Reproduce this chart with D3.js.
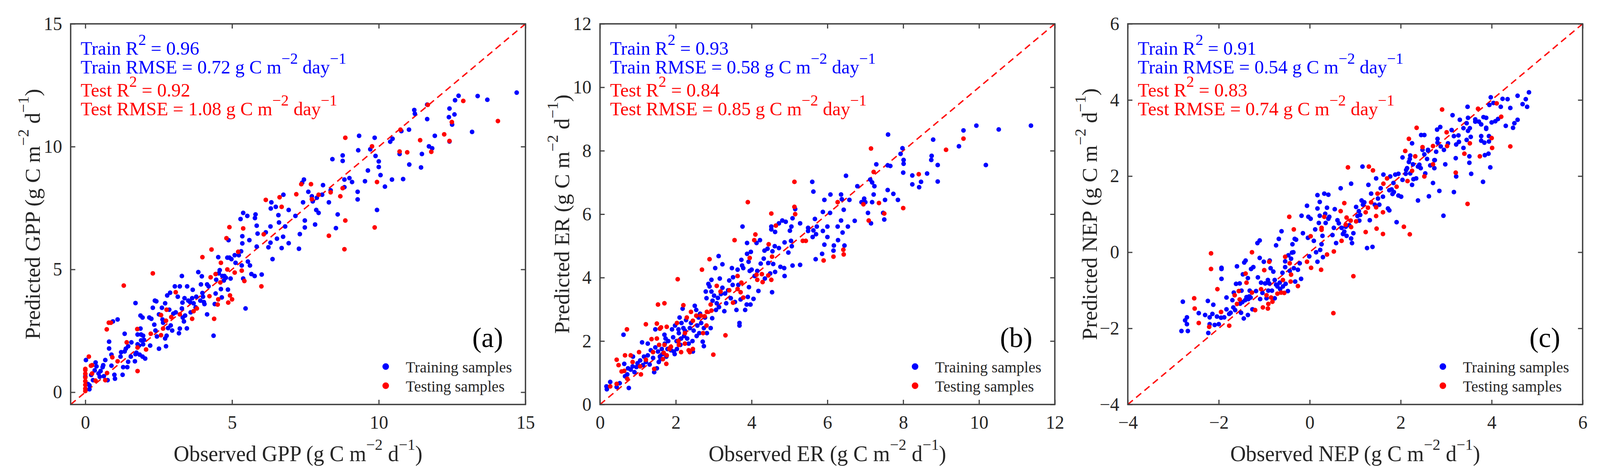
<!DOCTYPE html>
<html>
<head>
<meta charset="utf-8">
<script src="https://cdn.jsdelivr.net/npm/d3@7"></script>
<style>
  html, body { margin: 0; padding: 0; background: #fff; overflow: hidden; }
  #chart { display: block; width: 100vw; height: 100vh; }
</style>
</head>
<body>
<svg id="chart" viewBox="0 0 4144 1218" preserveAspectRatio="none"></svg>
<script>
// ============================================
// Observed vs predicted fluxes (GPP / ER / NEP)
// ============================================

const varNames = ["GPP", "ER", "NEP"];
const panelTags = ["(a)", "(b)", "(c)"];

const trainR2 = [0.96, 0.93, 0.91];
const trainRMSE = [0.72, 0.58, 0.54];
const testR2 = [0.92, 0.84, 0.83];
const testRMSE = [1.08, 0.85, 0.74];

const gppDomain = [-0.5, 15];
const erDomain = [0, 12];
const nepDomain = [-4, 6];

const gppTicks = [0, 5, 10, 15];
const erTicks = [0, 2, 4, 6, 8, 10, 12];
const nepTicks = [-4, -2, 0, 2, 4, 6];

const legendLabels = ["Training samples", "Testing samples"];

// [observed, predicted]
const gppTrain = [
  [14.7,12.2],[13.37,12.06],[13.7,11.91],[12.72,12.07],[12.6,11.89],[13.18,10.6],[12.41,11.55],[12.58,11.31],
  [12.39,11.2],[12.5,10.9],[12.41,10.21],[11.65,11.71],[11.65,11.12],[11.21,11.49],[11.23,11.34],[11.03,10.69],
  [10.77,10.63],[10.71,9.7],[10.83,8.68],[11.04,9.27],[11.44,9.15],[11.47,9.7],[11.71,10.01],[11.82,9.93],
  [11.91,10.44],[10.39,10.2],[10.47,10.32],[10.45,8.66],[10.21,8.37],[10.06,8.84],[10.0,9.17],[10.0,9.4],
  [9.89,9.62],[9.86,10.36],[9.94,7.42],[9.71,9.89],[9.63,9.03],[9.53,8.59],[9.33,10.44],[9.3,9.85],
  [9.28,8.16],[9.28,7.85],[9.09,8.56],[9.0,8.72],[8.83,8.66],[8.83,8.35],[8.77,9.64],[8.77,9.42],
  [8.42,9.49],[8.36,8.22],[8.3,7.73],[8.54,6.68],[8.6,7.24],[8.1,8.43],[8.07,8.04],[7.89,7.92],
  [7.87,7.42],[7.95,7.3],[7.83,6.83],[7.72,7.98],[7.75,7.77],[7.6,8.16],[7.45,8.66],[7.39,8.53],
  [7.42,7.73],[7.48,6.99],[7.48,6.71],[7.31,6.44],[7.28,5.84],[7.16,7.18],[6.93,7.42],[6.93,6.07],
  [6.75,8.04],[6.58,7.21],[6.49,7.55],[6.34,7.73],[6.32,7.48],[5.8,7.24],[5.78,7.09],[5.52,7.18],
  [5.38,7.3],[5.29,7.05],
  [0.02,1.31],[0.14,0.12],[0.14,0.28],[0.26,0.49],[0.35,1.21],[0.38,1.05],[0.45,0.76],[0.49,0.63],
  [0.52,0.86],[0.59,1.02],[0.61,1.1],[0.63,0.65],[0.68,1.31],[0.76,0.49],[0.81,2.06],[0.81,1.78],
  [0.89,1.53],[0.89,1.08],[0.94,2.88],[1.1,2.96],[0.99,0.71],[1.01,0.55],[1.2,1.45],[1.22,1.63],
  [1.27,0.71],[1.29,1.02],[1.34,2.38],[1.34,1.66],[1.38,1.77],[1.43,1.02],[1.46,1.24],[1.46,1.87],
  [1.57,2.03],[1.55,1.45],[1.69,1.26],[1.71,3.63],[1.71,1.55],[1.74,1.61],[1.78,1.95],[1.78,2.35],
  [1.83,1.9],[1.85,1.53],[1.88,2.59],[1.9,2.35],[1.9,2.11],[1.95,1.45],[1.97,2.3],[1.97,1.95],
  [2.0,2.13],[2.04,1.37],[1.88,3.12],[1.95,3.04],[2.18,3.04],[2.21,1.9],[2.25,2.99],[2.3,3.44],
  [2.35,2.75],[2.39,2.51],[2.37,3.73],[2.42,3.7],[2.44,2.27],[2.51,3.17],[2.51,1.77],[2.61,3.44],
  [2.63,2.96],[2.65,2.83],[2.72,3.62],[2.72,2.19],[2.75,1.87],[2.77,2.3],[2.79,3.94],[2.82,2.61],
  [2.86,3.36],[2.89,4.05],[2.91,2.72],[2.96,2.51],[3.0,3.2],[3.05,4.31],[3.08,3.25],[3.15,3.89],
  [3.19,2.4],[3.22,2.59],[3.22,4.31],[3.29,3.41],[3.29,4.73],[3.31,3.65],[3.32,3.04],[3.36,2.88],
  [3.38,3.83],[3.4,3.12],[3.46,2.6],[3.47,4.31],[3.51,3.73],[3.57,3.67],[3.59,3.25],[3.64,3.83],
  [3.66,4.17],[3.69,3.62],[3.76,3.46],[3.78,3.89],[3.85,4.89],[3.92,3.73],[3.94,4.39],[3.97,4.72],
  [3.99,4.04],[4.01,3.89],[4.04,3.67],[4.06,3.59],[4.15,3.17],[4.15,4.39],[4.2,4.31],[4.37,2.3],
  [4.44,4.02],[4.41,3.59],[4.46,4.58],[4.53,5.5],[4.55,4.84],[4.58,4.97],[4.62,4.2],[4.65,3.86],
  [4.67,4.73],[4.72,4.55],[4.74,4.73],[4.79,4.66],[4.84,5.48],[4.86,4.18],[4.88,6.19],[4.91,5.48],
  [4.95,4.63],[4.98,5.42],[5.09,5.58],[5.12,5.27],[5.23,5.58],[5.31,5.74],[5.33,5.16],[5.35,6.35],
  [5.35,6.06],[5.38,4.63],[5.46,3.41],[5.54,5.32],[5.59,6.19],[5.61,5.16],[5.66,4.81],[5.77,4.73],
  [5.84,6.78],[5.87,6.46],[5.84,5.93],[6.01,4.79],[6.15,6.51],[6.24,5.9],[6.31,6.75],[6.31,6.09],
  [6.38,5.42],[6.53,6.25],[6.69,5.87],[6.74,6.33],[6.6,6.91],[6.81,6.75],
  [0.0,0.64],[0.09,0.33],[0.2,0.7],[0.32,0.89]
];

const gppTest = [
  [14.06,11.04],[12.88,11.86],[12.49,11.0],[12.41,10.23],[12.23,10.5],[11.67,11.7],[11.79,9.79],[11.41,10.26],
  [10.97,9.77],[10.71,9.8],[10.74,10.69],[9.94,8.56],[9.86,6.71],[9.77,10.01],[8.86,10.36],[8.86,6.99],
  [8.83,5.82],[8.77,8.31],[8.69,7.98],[8.3,6.37],[8.36,8.14],[7.95,8.04],[7.69,8.47],[7.36,8.47],
  [7.72,7.86],[7.19,8.06],[6.69,7.55],[6.62,7.94],[6.15,7.83],
  [0.12,1.45],[0.19,1.08],[0.23,1.1],[0.23,0.76],[0.35,0.47],[0,0.05],[0,0.15],[0,0.3],
  [0,0.45],[0,0.6],[0,0.75],[0,0.9],[0,0.95],[0.68,0.49],[0.74,0.78],[0.73,2.56],
  [0.8,2.83],[0.87,2.83],[0.92,1.42],[1.1,1.26],[1.31,4.34],[1.41,2.03],[1.78,0.86],[1.77,2.57],
  [1.78,1.82],[2.07,1.74],[2.23,2.38],[2.3,4.84],[2.58,2.32],[2.65,2.59],[2.58,3.14],[2.75,2.91],
  [2.77,3.36],[2.93,3.06],[3.08,4.07],[3.22,3.17],[3.64,2.99],[3.69,3.3],[3.8,3.41],[3.99,5.5],
  [4.23,3.91],[4.27,4.68],[4.3,5.81],[4.39,2.99],[4.44,4.81],[4.51,3.57],[4.53,3.78],[4.62,5.27],
  [4.6,4.47],[4.84,5.0],[4.81,6.27],[4.87,3.65],[4.93,3.94],[5.0,3.78],[5.09,4.87],[5.21,5.72],
  [5.33,4.95],[5.42,4.53],[4.91,6.72],[5.38,6.67],[6.0,4.31],[6.08,6.43]
];

const erTrain = [
  [11.37,8.79],[10.52,8.67],[10.18,7.55],[9.93,8.79],[9.59,8.64],[9.47,8.14],[8.91,7.55],[8.91,7.03],
  [8.79,8.35],[8.75,7.84],[8.74,7.71],[8.63,7.28],[8.47,7.02],[8.42,6.85],[8.24,7.22],[8.24,6.94],
  [8.0,7.31],[8.01,7.59],[8.01,7.71],[7.98,8.08],[7.93,7.9],[7.6,8.51],[7.59,7.54],[7.66,7.52],
  [7.86,6.45],[7.74,6.64],[7.59,6.76],[7.52,6.45],[7.5,5.83],[7.47,6.04],[7.29,7.57],[7.24,6.88],
  [7.18,7.0],[7.15,5.71],[7.22,6.62],[7.18,6.38],[7.13,7.09],[7.07,6.04],[6.97,6.49],[6.9,6.38],
  [7.0,6.38],[6.79,6.88],[6.72,5.79],[6.49,7.21],[6.58,6.45],[6.54,5.61],[6.45,5.01],[6.4,5.42],
  [6.36,5.8],[6.43,6.14],[6.38,6.47],[6.36,6.62],[6.27,5.61],[6.28,5.18],[6.17,5.01],[6.16,4.85],
  [6.08,6.62],[6.07,6.04],[6.0,5.28],[6.0,5.61],[5.92,6.45],[5.88,6.07],[5.88,5.47],[5.92,5.04],
  [5.86,4.75],[5.67,5.85],[5.72,5.61],[5.7,5.37],[5.63,6.71],[5.6,7.02],[5.63,5.49],[5.61,5.28],
  [5.69,4.58],[5.49,5.47],[5.49,5.57],[5.28,4.4],[5.28,5.71],[5.15,6.16],[5.08,5.87],[5.05,5.61],
  [4.9,5.76],[4.81,5.8],[4.72,5.71],[4.52,5.61],[3.76,5.61],
  [0.18,0.48],[0.27,0.71],[0.17,0.57],[0.44,0.55],[0.52,0.67],[0.76,0.52],[0.64,1.28],[0.62,2.2],
  [0.66,0.89],[0.72,0.95],[0.74,1.14],[0.81,1.1],[0.86,1.2],[0.87,1.51],[0.91,1.02],[0.96,1.18],
  [0.99,1.3],[1.06,1.39],[1.11,1.96],[1.13,1.24],[1.16,1.51],[1.21,1.34],[1.26,1.92],[1.26,1.55],
  [1.31,1.26],[1.34,1.71],[1.4,1.47],[1.43,1.02],[1.46,2.37],[1.46,1.8],[1.5,1.14],[1.53,1.67],
  [1.55,1.34],[1.58,1.51],[1.6,1.43],[1.63,1.75],[1.65,1.59],[1.7,2.2],[1.71,1.92],[1.73,2.08],
  [1.75,1.51],[1.78,1.75],[1.8,2.0],[1.87,1.71],[1.9,2.37],[1.93,2.12],[1.95,1.67],[1.97,1.59],
  [1.98,2.49],[2.02,2.0],[2.03,1.75],[2.07,2.37],[2.08,2.25],[2.1,2.74],[2.12,1.88],[2.14,2.08],
  [2.15,2.57],[2.18,3.02],[2.2,2.41],[2.22,2.16],[2.24,2.33],[2.27,2.66],[2.3,2.08],[2.34,1.92],
  [2.37,2.41],[2.4,2.57],[2.44,2.0],[2.45,1.67],[2.47,2.33],[2.5,3.11],[2.54,2.98],[2.55,2.16],
  [2.57,2.49],[2.6,2.74],[2.62,2.25],[2.64,2.86],[2.67,2.57],[2.71,1.98],[2.74,1.84],[2.74,2.41],
  [2.77,2.74],[2.79,3.56],[2.81,3.35],[2.82,2.25],[2.86,3.8],[2.89,3.72],[2.92,2.41],[2.94,3.93],
  [2.94,3.56],[2.96,2.72],[2.97,3.27],[3.01,3.43],[3.04,4.3],[3.06,2.98],[3.08,3.19],[3.11,3.36],
  [3.13,4.68],[3.14,3.07],[3.16,3.97],[3.19,3.48],[3.23,4.42],[3.23,3.68],[3.28,2.94],[3.3,3.5],
  [3.33,3.19],[3.38,3.6],[3.41,3.91],[3.45,3.35],[3.48,4.3],[3.5,3.77],[3.51,4.01],[3.56,3.23],
  [3.6,2.98],[3.63,4.25],[3.65,3.77],[3.68,2.57],[3.68,2.49],[3.71,3.31],[3.73,4.56],[3.75,4.38],
  [3.78,4.3],[3.83,2.98],[3.87,3.15],[3.88,5.09],[3.88,4.75],[3.9,3.39],[3.92,4.5],[3.93,3.7],
  [3.95,4.21],[3.97,3.15],[3.98,4.81],[4.0,4.25],[4.05,3.33],[4.08,4.05],[4.13,5.09],[4.15,4.21],
  [4.18,3.58],[4.22,5.18],[4.24,4.44],[4.32,4.6],[4.34,4.85],[4.35,3.97],[4.42,4.91],[4.44,4.46],
  [4.49,4.13],[4.52,5.52],[4.54,3.54],[4.55,4.83],[4.57,4.43],[4.61,4.99],[4.62,5.44],[4.62,4.18],
  [4.72,4.93],[4.76,4.34],[4.86,4.3],[4.87,5.11],[4.87,4.05],[4.97,4.79],[5.01,5.48],[5.06,4.99],
  [5.08,4.38],[5.04,5.16]
];

const erTest = [
  [9.59,8.38],[9.13,8.03],[8.41,7.26],[8.0,6.19],[7.15,8.07],[7.22,7.33],[7.36,6.35],[7.09,5.8],
  [6.95,6.31],[7.5,6.02],[6.27,6.38],[6.42,4.88],[6.43,4.73],[6.16,4.66],[5.9,4.54],[5.35,5.16],
  [5.43,5.16],[5.13,7.02],[5.13,6.23],[5.15,6.0],[4.52,6.02],[4.64,5.64],[3.9,6.38],
  [0.27,0.57],[0.44,0.65],[0.44,1.41],[0.49,1.24],[0.57,1.04],[0.64,1.06],[0.66,1.55],[0.71,2.37],
  [0.72,0.81],[0.81,1.55],[0.86,1.34],[1.03,1.65],[1.06,1.2],[1.08,0.95],[1.21,2.53],[1.21,1.41],
  [1.36,2.06],[1.4,1.65],[1.43,1.12],[1.5,2.55],[1.5,2.08],[1.53,3.15],[1.56,1.88],[1.58,2.39],
  [1.61,2.43],[1.66,1.43],[1.68,1.63],[1.7,3.19],[1.7,1.88],[1.75,1.28],[1.76,2.45],[1.76,1.55],
  [1.83,1.75],[1.87,1.82],[2.05,3.95],[2.03,2.57],[2.07,2.0],[2.08,1.88],[2.14,1.65],[2.2,3.13],
  [2.24,2.25],[2.24,1.92],[2.29,2.74],[2.34,1.71],[2.37,1.65],[2.4,2.92],[2.45,2.64],[2.45,1.75],
  [2.54,2.8],[2.66,2.8],[2.69,4.25],[2.72,2.25],[2.76,2.78],[2.81,2.49],[2.82,2.92],[2.89,4.58],
  [2.92,3.15],[2.94,2.96],[2.99,1.57],[3.08,3.74],[3.18,3.56],[3.31,2.18],[3.41,3.6],[3.51,3.21],
  [3.55,5.18],[3.63,4.05],[3.63,3.64],[3.71,3.54],[3.73,3.84],[3.78,3.37],[3.95,4.62],[4.07,5.18],
  [4.1,5.36],[4.13,4.09],[4.15,3.93],[4.27,4.11],[4.29,3.86],[4.44,4.07],[4.45,5.05],[4.52,3.93],
  [4.54,4.66]
];

const nepTrain = [
  [-2.79,-1.3],[-2.82,-2.07],[-2.68,-2.07],[-2.74,-1.79],[-2.7,-1.71],[-2.7,-1.89],[-2.44,-1.6],[-2.3,-1.65],
  [-2.24,-1.28],[-2.23,-2.12],[-2.2,-1.71],[-2.2,-1.89],[-2.14,-1.62],[-2.12,-1.38],[-2.09,-1.91],[-2.04,-1.69],
  [-2.0,-1.89],[-1.95,-1.72],[-1.94,-0.7],[-1.94,-0.41],[-1.94,-0.44],[-1.88,-1.71],[-1.83,-1.19],[-1.83,-1.5],
  [-1.77,-1.62],[-1.74,-1.59],[-1.7,-1.26],[-1.68,-1.45],[-1.67,-1.06],[-1.64,-1.52],[-1.62,-0.83],[-1.6,-0.37],
  [-1.54,-0.82],[-1.53,-1.35],[-1.51,-1.59],[-1.5,-1.01],[-1.48,-1.31],[-1.47,-0.58],[-1.45,-1.74],[-1.44,-0.27],
  [-1.42,-1.26],[-1.41,-0.22],[-1.39,-1.18],[-1.36,-0.68],[-1.36,-1.65],[-1.35,-1.23],[-1.33,-1.16],[-1.32,-1.01],
  [-1.3,-1.19],[-1.29,-0.44],[-1.26,-1.5],[-1.24,-0.39],[-1.18,-1.02],[-1.15,0.24],[-1.14,-0.66],[-1.1,0.31],
  [-1.1,-0.15],[-1.09,-1.23],[-1.07,-0.8],[-1.04,-1.07],[-1.01,-0.25],[-0.98,-0.82],[-0.95,-1.21],[-0.92,-0.73],
  [-0.91,-1.01],[-0.89,-0.82],[-0.88,-0.22],[-0.86,-0.42],[-0.83,-1.01],[-0.8,-0.51],[-0.77,-1.21],[-0.77,-0.73],
  [-0.74,0.18],[-0.74,-0.85],[-0.71,-0.9],[-0.68,0.35],[-0.66,-0.8],[-0.65,-0.97],[-0.62,0.55],[-0.6,-0.54],
  [-0.59,-0.9],[-0.54,-0.24],[-0.54,-0.39],[-0.53,-0.83],[-0.48,-1.02],[-0.47,-0.08],[-0.44,-0.49],[-0.41,-0.17],
  [-0.39,-0.01],[-0.38,0.21],[-0.36,0.0],[-0.35,-0.42],[-0.33,0.35],[-0.32,-0.77],[-0.3,0.33],[-0.26,-0.46],
  [-0.22,-0.29],[-0.19,-0.7],[-0.18,0.96],[-0.15,0.5],[-0.06,1.22],[-0.04,0.38],[-0.03,0.93],[-0.01,-0.11],
  [0.02,0.88],[0.09,0.3],[0.12,0.6],[0.14,0.0],[0.17,1.5],[0.17,-0.25],[0.17,1.15],[0.2,0.77],
  [0.22,1.32],[0.22,0.96],[0.23,0.06],[0.26,0.21],[0.28,0.43],[0.29,-0.13],[0.32,1.54],[0.34,1.01],
  [0.35,0.77],[0.38,1.17],[0.41,1.51],[0.41,0.88],[0.43,0.93],[0.5,0.45],[0.53,0.64],[0.55,1.13],
  [0.58,0.24],[0.61,0.84],[0.64,0.76],[0.68,1.68],[0.7,0.64],[0.73,0.48],[0.76,0.54],[0.79,0.67],
  [0.81,0.43],[0.87,0.71],[0.91,1.8],[0.91,0.36],[0.93,0.24],[0.96,0.5],[1.02,1.19],[1.05,0.95],
  [1.08,1.08],[1.09,0.83],[1.11,0.98],[1.14,1.36],[1.17,1.25],[1.2,1.31],[1.26,0.11],[1.29,1.77],
  [1.32,0.84],[1.35,1.54],[1.38,0.14],[1.43,1.25],[1.46,1.94],[1.5,1.41],[1.53,1.25],[1.56,1.68],
  [1.61,1.46],[1.62,2.04],[1.16,2.25],
  [4.82,4.2],[4.57,4.11],[4.75,4.02],[4.78,3.82],[4.68,3.89],[4.57,3.48],[4.5,3.39],[4.47,3.27],
  [4.41,3.79],[4.35,4.02],[4.24,4.03],[4.2,3.82],[4.31,3.32],[3.98,4.07],[3.95,3.87],[4.04,3.92],
  [4.14,3.5],[4.08,3.44],[4.0,3.41],[3.88,3.53],[3.82,3.55],[3.88,3.27],[3.88,3.24],[3.77,3.36],
  [3.72,3.43],[3.64,3.49],[3.64,3.43],[3.77,3.05],[3.77,2.93],[3.84,2.88],[3.94,3.05],[3.94,2.91],
  [3.85,2.55],[3.93,2.59],[3.97,2.23],[3.81,1.85],[3.47,3.82],[3.48,3.53],[3.45,3.39],[3.3,3.48],
  [3.14,3.6],[3.38,3.26],[3.52,3.26],[3.48,3.19],[3.54,3.03],[3.45,2.95],[3.27,3.07],[3.17,3.05],
  [3.12,3.21],[3.22,2.83],[3.28,2.9],[3.38,2.74],[3.51,2.52],[3.51,2.35],[3.55,2.06],[3.21,2.47],
  [3.22,1.99],[3.17,1.58],[2.98,2.31],[3.04,2.86],[2.95,2.69],[2.88,2.78],[2.87,3.29],[2.8,3.22],
  [2.81,2.98],[2.81,2.88],[2.78,2.64],[2.74,2.42],[2.74,2.21],[2.75,2.42],[2.65,2.28],[2.58,2.45],
  [2.6,2.67],[2.52,2.57],[2.54,2.07],[2.6,2.69],[2.52,3.08],[2.45,3.08],[2.48,2.69],[2.41,2.3],
  [2.44,2.21],[2.38,2.25],[2.34,1.94],[2.28,1.92],[2.25,1.77],[2.21,2.07],[2.27,2.31],[2.25,2.86],
  [2.21,2.54],[2.2,2.45],[2.18,2.37],[2.14,2.21],[2.12,2.16],[2.11,2.06],[2.04,2.49],[2.04,1.9],
  [1.95,2.06],[1.88,2.04],[1.84,1.82],[1.8,1.65],[1.85,1.58],[1.82,1.53],[1.95,1.49],[2.01,1.46],
  [1.75,1.63],[1.77,1.99],[1.72,1.15],[1.75,1.1],[1.91,0.79],[2.38,1.36],[2.62,1.47],[2.85,1.61],
  [2.71,1.82],[2.94,0.96]
];

const nepTest = [
  [-2.17,-0.03],[-2.17,-0.44],[-2.54,-1.21],[-2.53,-1.48],[-2.44,-1.86],[-2.21,-1.96],[-2.03,-0.97],[-1.95,-1.57],
  [-1.77,-1.93],[-1.65,-1.13],[-1.6,-1.36],[-1.56,-1.02],[-1.54,-1.24],[-1.41,-0.56],[-1.39,-0.8],[-1.27,0.0],
  [-1.27,-1.06],[-1.2,-1.52],[-1.07,-0.97],[-1.03,-1.45],[-1.0,-0.47],[-0.95,-1.13],[-0.92,-1.48],[-0.91,-1.36],
  [-0.89,-0.25],[-0.85,-1.19],[-0.82,-1.3],[-0.71,-1.09],[-0.63,-1.06],[-0.59,-0.73],[-0.56,-1.07],[-0.54,-0.12],
  [-0.44,-0.29],[-0.41,-0.59],[-0.42,-0.77],[-0.35,0.6],[-0.26,-0.89],[-0.45,0.93],[-0.06,-0.25],[0.02,0.42],
  [0.03,-0.41],[0.25,-0.46],[0.26,0.64],[0.26,0.59],[0.32,0.93],[0.38,-0.06],[0.52,-1.6],[0.53,0.02],
  [0.7,0.3],[0.68,1.08],[0.76,1.29],[0.79,0.72],[0.81,0.91],[0.9,0.83],[0.91,0.66],[0.96,-0.63],
  [1.02,0.81],[1.23,1.05],[1.23,0.53],[1.28,1.17],[1.35,1.31],[1.46,1.18],[1.46,0.95],[1.47,0.62],
  [1.49,1.54],[1.61,1.05],[1.61,0.48],[1.62,1.8],[0.84,2.23],[1.3,2.25],[1.39,2.15],
  [2.91,3.75],[2.35,3.27],[2.18,2.98],[2.1,2.66],[2.32,2.52],[2.48,2.76],[2.71,2.79],[3.01,3.15],
  [3.02,2.79],[2.71,2.31],[2.25,2.14],[2.52,1.99],[2.15,1.87],[1.91,1.72],[1.7,1.94],[2.07,0.67],
  [2.2,0.47],[3.21,2.09],[3.4,2.59],[3.52,2.86],[3.47,1.27],[3.7,3.77],[3.74,2.52],[4.0,3.0],
  [4.01,2.74],[4.11,3.91],[4.21,3.56],[4.41,2.78]
];

// ========== layout ==========

const serif = "'Liberation Serif', 'Times New Roman', Times, serif";
const panelLeft = [183, 1554, 2921];
const plotTop = 61;
const plotW = 1178;
const plotH = 974;
const blue = "#0000ff";
const red = "#ff0000";
const ink = "#262626";

const panels = varNames.map((name, i) => ({
  name,
  tag: panelTags[i],
  train: [gppTrain, erTrain, nepTrain][i],
  test: [gppTest, erTest, nepTest][i],
  domain: [gppDomain, erDomain, nepDomain][i],
  ticks: [gppTicks, erTicks, nepTicks][i],
}));

const svg = d3.select("#chart").attr("font-family", serif);

// MATLAB-ish tex: "m^{−2}" -> raised tspans
function texText(sel, str, size, supSize) {
  const bits = str.split(/\^\{([^}]*)\}/);
  const rise = size * 0.52;
  let cur = 0;
  bits.forEach((b, i) => {
    if (!b) return;
    const sup = i % 2 === 1;
    const target = sup ? -rise : 0;
    sel.append("tspan")
      .attr("dy", target - cur)
      .attr("font-size", sup ? supSize : size)
      .text(b);
    cur = target;
  });
  return sel;
}

function styleAxis(g, showText) {
  g.select(".domain").remove();
  g.attr("font-family", null).attr("font-size", null);
  g.selectAll(".tick line").attr("stroke", "#404040").attr("stroke-width", 3);
  if (!showText) g.selectAll(".tick text").remove();
  g.selectAll(".tick text").attr("font-size", 48).attr("fill", ink);
}

panels.forEach((p, i) => {
  const g = svg.append("g").attr("transform", `translate(${panelLeft[i]},${plotTop})`);

  const x = d3.scaleLinear().domain(p.domain).range([0, plotW]);
  const y = d3.scaleLinear().domain(p.domain).range([plotH, 0]);
  const fmt = d3.format("d");

  g.append("clipPath").attr("id", `clip${i}`)
    .append("rect").attr("width", plotW).attr("height", plotH);

  // ========== axes (ticks inside, mirrored) ==========

  g.append("g").attr("transform", `translate(0,${plotH})`)
    .call(d3.axisBottom(x).tickValues(p.ticks).tickFormat(fmt).tickSize(-12).tickSizeOuter(0).tickPadding(28))
    .call((s) => styleAxis(s, true));

  g.append("g")
    .call(d3.axisTop(x).tickValues(p.ticks).tickSize(-12).tickSizeOuter(0))
    .call((s) => styleAxis(s, false));

  g.append("g")
    .call(d3.axisLeft(y).tickValues(p.ticks).tickFormat(fmt).tickSize(-12).tickSizeOuter(0).tickPadding(22))
    .call((s) => styleAxis(s, true));

  g.append("g").attr("transform", `translate(${plotW},0)`)
    .call(d3.axisRight(y).tickValues(p.ticks).tickSize(-12).tickSizeOuter(0))
    .call((s) => styleAxis(s, false));

  // ========== 1:1 line + points ==========

  const plot = g.append("g").attr("clip-path", `url(#clip${i})`);

  plot.append("line")
    .attr("x1", x(p.domain[0])).attr("y1", y(p.domain[0]))
    .attr("x2", x(p.domain[1])).attr("y2", y(p.domain[1]))
    .attr("stroke", red)
    .attr("stroke-width", 3.5)
    .attr("stroke-dasharray", "17,11");

  plot.append("g").selectAll("circle")
    .data(p.train)
    .join("circle")
    .attr("cx", (d) => x(d[0]))
    .attr("cy", (d) => y(d[1]))
    .attr("r", 6)
    .attr("fill", blue);

  plot.append("g").selectAll("circle")
    .data(p.test)
    .join("circle")
    .attr("cx", (d) => x(d[0]))
    .attr("cy", (d) => y(d[1]))
    .attr("r", 6)
    .attr("fill", red);

  // frame
  g.append("rect")
    .attr("width", plotW).attr("height", plotH)
    .attr("fill", "none")
    .attr("stroke", "#404040")
    .attr("stroke-width", 3.5);

  // ========== stats text ==========

  const stats = [
    { s: `Train R^{2} = ${trainR2[i].toFixed(2)}`, c: blue, dy: 79 },
    { s: `Train RMSE = ${trainRMSE[i].toFixed(2)} g C m^{−2} day^{−1}`, c: blue, dy: 127 },
    { s: `Test R^{2} = ${testR2[i].toFixed(2)}`, c: red, dy: 186 },
    { s: `Test RMSE = ${testRMSE[i].toFixed(2)} g C m^{−2} day^{−1}`, c: red, dy: 234 },
  ];
  stats.forEach((st) => {
    const t = g.append("text").attr("x", 26).attr("y", st.dy).attr("fill", st.c);
    texText(t, st.s, 49, 40);
  });

  // panel tag
  g.append("text")
    .attr("x", plotW - 58).attr("y", plotH - 147)
    .attr("text-anchor", "end")
    .attr("font-size", 72)
    .attr("fill", "#000")
    .text(p.tag);

  // ========== legend ==========

  const leg = g.append("g").attr("transform", `translate(${plotW - 362},${plotH - 97})`);
  leg.selectAll("circle")
    .data(legendLabels)
    .join("circle")
    .attr("cy", (d, k) => k * 49)
    .attr("r", 8.5)
    .attr("fill", (d, k) => (k === 0 ? blue : red));
  leg.selectAll("text")
    .data(legendLabels)
    .join("text")
    .attr("x", 52)
    .attr("y", (d, k) => k * 49 + 15)
    .attr("font-size", 40)
    .attr("fill", ink)
    .text((d) => d);

  // ========== axis titles ==========

  const xt = g.append("text")
    .attr("x", plotW / 2).attr("y", 1180 - plotTop)
    .attr("text-anchor", "middle")
    .attr("fill", ink);
  texText(xt, `Observed ${p.name} (g C m^{−2} d^{−1})`, 56, 40);

  const yt = g.append("text")
    .attr("transform", `translate(-80,${plotH / 2}) rotate(-90)`)
    .attr("text-anchor", "middle")
    .attr("fill", ink);
  texText(yt, `Predicted ${p.name} (g C m^{−2} d^{−1})`, 56, 40);
});
</script>
</body>
</html>
